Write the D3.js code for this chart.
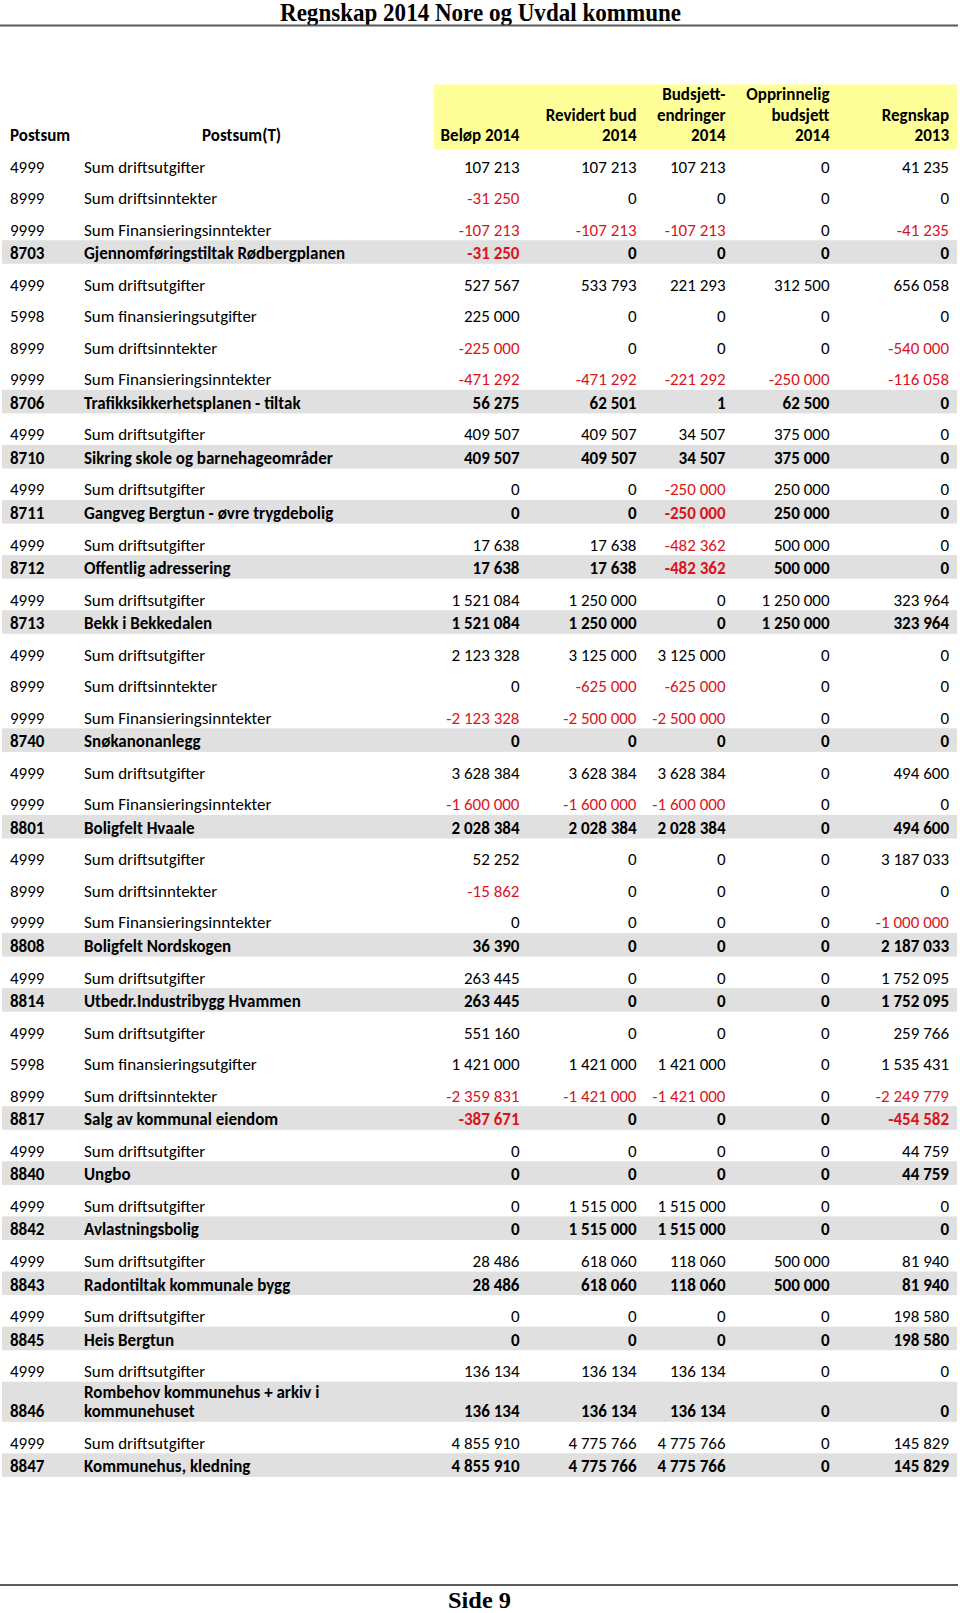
<!DOCTYPE html>
<html>
<head>
<meta charset="utf-8">
<script src="https://cdn.jsdelivr.net/npm/d3@7"></script>
<style>
  html, body { margin: 0; padding: 0; background: #fff; }
  svg { display: block; }
</style>
</head>
<body>
<div id="chart"></div>
<script>
// Table data: account code, account name and five amount columns
const postsum = [
  4999, 8999, 9999, 8703,
  4999, 5998, 8999, 9999, 8706,
  4999, 8710,
  4999, 8711,
  4999, 8712,
  4999, 8713,
  4999, 8999, 9999, 8740,
  4999, 9999, 8801,
  4999, 8999, 9999, 8808,
  4999, 8814,
  4999, 5998, 8999, 8817,
  4999, 8840,
  4999, 8842,
  4999, 8843,
  4999, 8845,
  4999, 8846,
  4999, 8847
];

const postsumT = [
  "Sum driftsutgifter", "Sum driftsinntekter", "Sum Finansieringsinntekter", "Gjennomføringstiltak Rødbergplanen",
  "Sum driftsutgifter", "Sum finansieringsutgifter", "Sum driftsinntekter", "Sum Finansieringsinntekter", "Trafikksikkerhetsplanen - tiltak",
  "Sum driftsutgifter", "Sikring skole og barnehageområder",
  "Sum driftsutgifter", "Gangveg Bergtun - øvre trygdebolig",
  "Sum driftsutgifter", "Offentlig adressering",
  "Sum driftsutgifter", "Bekk i Bekkedalen",
  "Sum driftsutgifter", "Sum driftsinntekter", "Sum Finansieringsinntekter", "Snøkanonanlegg",
  "Sum driftsutgifter", "Sum Finansieringsinntekter", "Boligfelt Hvaale",
  "Sum driftsutgifter", "Sum driftsinntekter", "Sum Finansieringsinntekter", "Boligfelt Nordskogen",
  "Sum driftsutgifter", "Utbedr.Industribygg Hvammen",
  "Sum driftsutgifter", "Sum finansieringsutgifter", "Sum driftsinntekter", "Salg av kommunal eiendom",
  "Sum driftsutgifter", "Ungbo",
  "Sum driftsutgifter", "Avlastningsbolig",
  "Sum driftsutgifter", "Radontiltak kommunale bygg",
  "Sum driftsutgifter", "Heis Bergtun",
  "Sum driftsutgifter", "Rombehov kommunehus + arkiv i kommunehuset",
  "Sum driftsutgifter", "Kommunehus, kledning"
];

const belop2014 = [
  107213, -31250, -107213, -31250,
  527567, 225000, -225000, -471292, 56275,
  409507, 409507,
  0, 0,
  17638, 17638,
  1521084, 1521084,
  2123328, 0, -2123328, 0,
  3628384, -1600000, 2028384,
  52252, -15862, 0, 36390,
  263445, 263445,
  551160, 1421000, -2359831, -387671,
  0, 0,
  0, 0,
  28486, 28486,
  0, 0,
  136134, 136134,
  4855910, 4855910
];

const revidert2014 = [
  107213, 0, -107213, 0,
  533793, 0, 0, -471292, 62501,
  409507, 409507,
  0, 0,
  17638, 17638,
  1250000, 1250000,
  3125000, -625000, -2500000, 0,
  3628384, -1600000, 2028384,
  0, 0, 0, 0,
  0, 0,
  0, 1421000, -1421000, 0,
  0, 0,
  1515000, 1515000,
  618060, 618060,
  0, 0,
  136134, 136134,
  4775766, 4775766
];

const endringer2014 = [
  107213, 0, -107213, 0,
  221293, 0, 0, -221292, 1,
  34507, 34507,
  -250000, -250000,
  -482362, -482362,
  0, 0,
  3125000, -625000, -2500000, 0,
  3628384, -1600000, 2028384,
  0, 0, 0, 0,
  0, 0,
  0, 1421000, -1421000, 0,
  0, 0,
  1515000, 1515000,
  118060, 118060,
  0, 0,
  136134, 136134,
  4775766, 4775766
];

const opprinnelig2014 = [
  0, 0, 0, 0,
  312500, 0, 0, -250000, 62500,
  375000, 375000,
  250000, 250000,
  500000, 500000,
  1250000, 1250000,
  0, 0, 0, 0,
  0, 0, 0,
  0, 0, 0, 0,
  0, 0,
  0, 0, 0, 0,
  0, 0,
  0, 0,
  500000, 500000,
  0, 0,
  0, 0,
  0, 0
];

const regnskap2013 = [
  41235, 0, -41235, 0,
  656058, 0, -540000, -116058, 0,
  0, 0,
  0, 0,
  0, 0,
  323964, 323964,
  0, 0, 0, 0,
  494600, 0, 494600,
  3187033, 0, -1000000, 2187033,
  1752095, 1752095,
  259766, 1535431, -2249779, -454582,
  44759, 44759,
  0, 0,
  81940, 81940,
  198580, 198580,
  0, 0,
  145829, 145829
];

const columnHeaders = [
  ["Beløp 2014"],
  ["Revidert bud", "2014"],
  ["Budsjett-", "endringer", "2014"],
  ["Opprinnelig", "budsjett", "2014"],
  ["Regnskap", "2013"]
];

const title = "Regnskap 2014 Nore og Uvdal kommune";
const footer = "Side 9";

// Layout
const width = 960;
const height = 1613;
const font = "Carlito, Lato, sans-serif";
const fontSize = 17;
const red = "#d9141c";
const subCodes = [4999, 5998, 8999, 9999];

const valueCols = [belop2014, revidert2014, endringer2014, opprinnelig2014, regnskap2013];
const colKeys = d3.range(valueCols.length);
const x = d3.scaleOrdinal()
  .domain(colKeys)
  .range([519.5, 636.5, 725.5, 829.5, 949]);

const fmt = d3.formatLocale({
  decimal: ",", thousands: " ", grouping: [3], currency: ["", ""], minus: "-"
}).format(",d");

const svg = d3.select("#chart")
  .append("svg")
  .attr("width", width)
  .attr("height", height)
  .style("font-family", font);

// Page title and rules
svg.append("text")
  .attr("x", 480.5)
  .attr("y", 20.5)
  .attr("text-anchor", "middle")
  .attr("textLength", 401)
  .attr("lengthAdjust", "spacingAndGlyphs")
  .style("font-family", "'Liberation Serif', 'Times New Roman', serif")
  .style("font-weight", "bold")
  .style("font-size", "25px")
  .text(title);

svg.append("line")
  .attr("x1", 0).attr("x2", 958)
  .attr("y1", 25.5).attr("y2", 25.5)
  .attr("stroke", "#5a5a5a")
  .attr("stroke-width", 2);

svg.append("line")
  .attr("x1", 0).attr("x2", 958)
  .attr("y1", 1585).attr("y2", 1585)
  .attr("stroke", "#5a5a5a")
  .attr("stroke-width", 2);

svg.append("text")
  .attr("x", 479.5)
  .attr("y", 1608)
  .attr("text-anchor", "middle")
  .attr("textLength", 63)
  .attr("lengthAdjust", "spacingAndGlyphs")
  .style("font-family", "'Liberation Serif', 'Times New Roman', serif")
  .style("font-weight", "bold")
  .style("font-size", "23px")
  .text(footer);

// Header
svg.append("rect")
  .attr("x", 434).attr("y", 84.5)
  .attr("width", 523).attr("height", 64.5)
  .attr("fill", "#ffff99");

const headerBase = 141;
const headerStep = 20.5;
const head = svg.append("g")
  .style("font-weight", "bold")
  .style("font-size", fontSize + "px");

head.append("text").attr("x", 10).attr("y", headerBase).text("Postsum");
head.append("text").attr("x", 202).attr("y", headerBase).text("Postsum(T)");

columnHeaders.forEach((lines, i) => {
  const t = head.append("text")
    .attr("text-anchor", "end")
    .attr("x", x(i))
    .attr("y", headerBase - (lines.length - 1) * headerStep);
  lines.forEach((ln, j) => {
    t.append("tspan")
      .attr("x", x(i))
      .attr("dy", j === 0 ? 0 : headerStep)
      .text(ln);
  });
});

// Body rows
const rows = postsum.map((code, i) => ({
  code,
  name: postsumT[i],
  total: !subCodes.includes(code),
  values: valueCols.map(c => c[i])
}));

// wrap long names the way a narrow spreadsheet column would
const measure = svg.append("text")
  .style("font-size", fontSize + "px")
  .style("font-weight", "bold");
function wrap(str, maxW) {
  const words = str.split(" ");
  const lines = [];
  let cur = "";
  words.forEach(w => {
    const next = cur ? cur + " " + w : w;
    measure.text(next);
    if (cur && measure.node().getComputedTextLength() > maxW) {
      lines.push(cur);
      cur = w;
    } else {
      cur = next;
    }
  });
  lines.push(cur);
  return lines;
}

const subH = 31.5;
const totalH = 23.6;
const extraLineH = 16.5;
const lineStep = 19.6;
let yTop = 145.7;
rows.forEach(r => {
  r.lines = r.total ? wrap(r.name, 330) : [r.name];
  r.top = yTop;
  r.h = (r.total ? totalH : subH) + (r.lines.length - 1) * extraLineH;
  yTop += r.h;
});
measure.remove();

const body = svg.append("g").style("font-size", fontSize + "px");

const rowG = body.selectAll("g.row")
  .data(rows)
  .join("g")
  .attr("class", "row")
  .style("font-weight", d => d.total ? "bold" : "normal");

rowG.filter(d => d.total)
  .append("rect")
  .attr("x", 2)
  .attr("y", d => d.top)
  .attr("width", 955)
  .attr("height", d => d.h)
  .attr("fill", "#e0e0e0");

const baseOf = d => d.top + d.h - 4.6;

rowG.append("text")
  .attr("x", 10)
  .attr("y", baseOf)
  .attr("fill", "#000")
  .text(d => d.code);

rowG.append("text")
  .attr("x", 84)
  .attr("y", d => baseOf(d) - (d.lines.length - 1) * lineStep)
  .attr("fill", "#000")
  .each(function(d) {
    const t = d3.select(this);
    d.lines.forEach((ln, j) => {
      t.append("tspan").attr("x", 84).attr("dy", j === 0 ? 0 : lineStep).text(ln);
    });
  });

rowG.selectAll("text.val")
  .data(d => d.values.map((v, i) => ({ v, i, row: d })))
  .join("text")
  .attr("class", "val")
  .attr("text-anchor", "end")
  .attr("x", d => x(d.i))
  .attr("y", d => baseOf(d.row))
  .attr("fill", d => d.v < 0 ? red : "#000")
  .text(d => fmt(d.v));
</script>
</body>
</html>
